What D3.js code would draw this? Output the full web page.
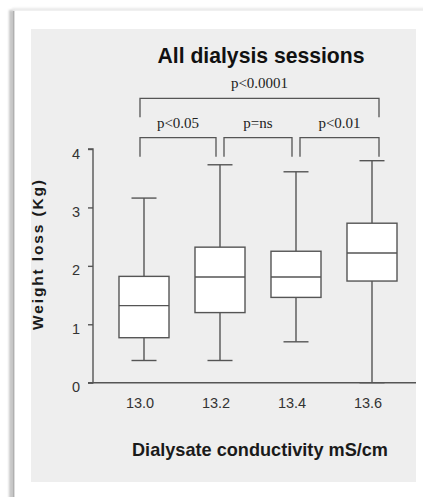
<!DOCTYPE html>
<html>
<head>
<meta charset="utf-8">
<script src="https://cdn.jsdelivr.net/npm/d3@7"></script>
<style>
  html, body { margin: 0; padding: 0; background: #fff; }
  svg { display: block; }
</style>
</head>
<body>
<svg id="chart" width="423" height="497"></svg>
<script>
// Dialysate conductivity groups (mS/cm)
const categories = ["13.0", "13.2", "13.4", "13.6"];
// Box-plot summaries of weight loss (kg) per group
const whiskerLow  = [0.38, 0.38, 0.70, 0.00];
const quartile1   = [0.77, 1.20, 1.46, 1.74];
const medians     = [1.32, 1.81, 1.81, 2.22];
const quartile3   = [1.82, 2.32, 2.25, 2.73];
const whiskerHigh = [3.16, 3.73, 3.61, 3.80];
const yTicks = [0, 1, 2, 3, 4];
// Pairwise comparisons shown above the boxes
const comparisons = [
  { from: "13.0", to: "13.6", label: "p<0.0001", level: 1 },
  { from: "13.0", to: "13.2", label: "p<0.05",   level: 0 },
  { from: "13.2", to: "13.4", label: "p=ns",     level: 0 },
  { from: "13.4", to: "13.6", label: "p<0.01",   level: 0 }
];

const boxes = categories.map((c, i) => ({
  cat: c, lo: whiskerLow[i], q1: quartile1[i], med: medians[i], q3: quartile3[i], hi: whiskerHigh[i]
}));

const svg = d3.select("#chart");
const ink = "#555";
const sans = "'Liberation Sans', Arial, sans-serif";
const serif = "'Liberation Serif', 'Times New Roman', serif";

// Card with soft left/top shadow
const defs = svg.append("defs");
defs.append("filter").attr("id", "soft").attr("x", "-50%").attr("y", "-50%").attr("width", "200%").attr("height", "200%")
  .append("feGaussianBlur").attr("stdDeviation", 1.2);
const shadow = svg.append("g").attr("filter", "url(#soft)");
shadow.append("rect").attr("x", 9).attr("y", 10).attr("width", 5).attr("height", 500).attr("fill", "#c8c8c8");
shadow.append("rect").attr("x", 12).attr("y", 8).attr("width", 420).attr("height", 3).attr("fill", "#e8e8e8");
svg.append("rect").attr("x", 15).attr("y", 11).attr("width", 420).attr("height", 490).attr("fill", "#fff");
svg.append("line").attr("x1", 13.5).attr("x2", 13.5).attr("y1", 11).attr("y2", 497)
  .attr("stroke", "#b0b0b0").attr("stroke-width", 1.5);

// Grey plotting panel
svg.append("rect").attr("x", 31).attr("y", 29).attr("width", 385).attr("height", 453).attr("fill", "#eeeeee");

// Scales
const x = d3.scaleBand().domain(categories).range([106, 410]).paddingInner(0.342).paddingOuter(0.171);
const y = d3.scaleLinear().domain([0, 4]).range([382.7, 149]);
const cx = c => x(c) + x.bandwidth() / 2;
const capHalf = 12.5;

// Y axis
const yAxis = svg.append("g").attr("transform", "translate(93,0)")
  .call(d3.axisLeft(y).tickValues(yTicks).tickFormat(d3.format("d")).tickSize(5).tickPadding(11));
yAxis.select(".domain").attr("stroke", ink).attr("stroke-width", 1.4).attr("d", `M-5,${y(4)}H0V${y(0)}H-5`);
yAxis.selectAll(".tick line").attr("stroke", ink).attr("stroke-width", 1.4);
yAxis.selectAll(".tick text").attr("font-family", sans).attr("font-size", 14.5).attr("fill", "#333")
  .attr("dy", "0.62em").attr("x", -13);

// X axis baseline and labels
svg.append("line").attr("x1", 93).attr("x2", 416).attr("y1", y(0)).attr("y2", y(0))
  .attr("stroke", ink).attr("stroke-width", 1.4);
const xAxis = svg.append("g").attr("transform", `translate(0,${y(0)})`)
  .call(d3.axisBottom(x).tickSize(0).tickPadding(0));
xAxis.select(".domain").remove();
xAxis.selectAll(".tick text").attr("font-family", sans).attr("font-size", 14.5).attr("fill", "#333")
  .attr("dy", 0).attr("y", 25.8).attr("x", -4);

// Boxes and whiskers
const g = svg.append("g").attr("stroke", ink).attr("stroke-width", 1.4);
const bx = g.selectAll("g.box").data(boxes).join("g").attr("class", "box");
bx.append("line").attr("x1", d => cx(d.cat)).attr("x2", d => cx(d.cat))
  .attr("y1", d => y(d.hi)).attr("y2", d => y(d.q3));
bx.append("line").attr("x1", d => cx(d.cat)).attr("x2", d => cx(d.cat))
  .attr("y1", d => y(d.q1)).attr("y2", d => y(d.lo));
bx.append("line").attr("x1", d => cx(d.cat) - capHalf).attr("x2", d => cx(d.cat) + capHalf)
  .attr("y1", d => y(d.hi)).attr("y2", d => y(d.hi));
bx.append("line").attr("x1", d => cx(d.cat) - capHalf).attr("x2", d => cx(d.cat) + capHalf)
  .attr("y1", d => y(d.lo)).attr("y2", d => y(d.lo));
bx.append("rect").attr("x", d => x(d.cat)).attr("width", x.bandwidth())
  .attr("y", d => y(d.q3)).attr("height", d => y(d.q1) - y(d.q3)).attr("fill", "#fff");
bx.append("line").attr("x1", d => x(d.cat)).attr("x2", d => x(d.cat) + x.bandwidth())
  .attr("y1", d => y(d.med)).attr("y2", d => y(d.med));

// Significance brackets
const first = categories[0], last = categories[categories.length - 1];
const bracketTop = [137.7, 98.3];   // horizontal bar per level
const legDrop = 19;
const br = svg.append("g");
comparisons.forEach(c => {
  const x1 = cx(c.from) + (c.from === first ? -4 : 4);
  const x2 = cx(c.to) + (c.to === last ? 7 : -4);
  const yb = bracketTop[c.level];
  br.append("path").attr("d", `M${x1},${yb + legDrop}V${yb}H${x2}V${yb + legDrop}`)
    .attr("fill", "none").attr("stroke", ink).attr("stroke-width", 1.3);
  br.append("text").attr("x", (x1 + x2) / 2).attr("y", yb - 10)
    .attr("text-anchor", "middle").attr("font-family", serif).attr("font-size", 15)
    .attr("fill", "#222").text(c.label);
});

// Titles
svg.append("text").attr("x", 261).attr("y", 63).attr("text-anchor", "middle")
  .attr("font-family", sans).attr("font-weight", "bold").attr("font-size", 21.5).attr("fill", "#111")
  .attr("textLength", 207).attr("lengthAdjust", "spacingAndGlyphs").text("All dialysis sessions");
svg.append("text").attr("x", 260).attr("y", 456).attr("text-anchor", "middle")
  .attr("font-family", sans).attr("font-weight", "bold").attr("font-size", 19).attr("fill", "#1a1a1a")
  .attr("textLength", 256).attr("lengthAdjust", "spacingAndGlyphs").text("Dialysate conductivity mS/cm");
svg.append("text").attr("transform", "translate(42.5,255) rotate(-90)").attr("text-anchor", "middle")
  .attr("font-family", sans).attr("font-weight", "bold").attr("font-size", 15.5).attr("fill", "#1a1a1a")
  .attr("textLength", 150).attr("lengthAdjust", "spacing").text("Weight loss (Kg)");
</script>
</body>
</html>
